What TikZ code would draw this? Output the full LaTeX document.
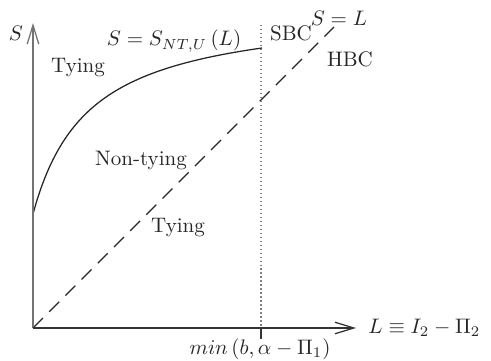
\documentclass[tikz,border=0pt]{standalone}
\usetikzlibrary{arrows.meta}
\begin{document}
\begin{tikzpicture}[x=0.476pt,y=-0.476pt,
  axisline/.style={line width=0.6pt,-{Straight Barb[length=9pt,width=5.5pt]}},
  curveline/.style={line width=0.6pt,black!85},
  diagline/.style={line width=0.55pt,black!85,dash pattern=on 6.7pt off 4.2pt},
  dotline/.style={line width=0.55pt,gray,dash pattern=on 0.6pt off 1.3pt},
  lbl/.style={inner sep=0pt,text=black!85}]
\useasboundingbox (0,0) rectangle (491,360);
\coordinate (O) at (33,328);
\coordinate (ytop) at (33,23);
\coordinate (xend) at (356,328);
\coordinate (dtop) at (334,27);
\coordinate (vtop) at (261,25);
\coordinate (vbot) at (261,328);
\coordinate (tick) at (261,339);
% dashed S = L line
\draw[diagline] (O) -- (dtop);
% dotted vertical
\draw[dotline] (vtop) -- (vbot);
% curve
\draw[curveline] plot[domain=0:229,samples=80,smooth] ({33+\x},{214-206.6*(\x/(\x+56))});
% axes
\draw[axisline,gray!90!black] (O) -- (ytop);
\draw[axisline,black!80] (O) -- (xend);
\draw[line width=0.6pt,black!80] (vbot) -- (tick);
% labels
\node[lbl] (sy) at (16,33) {$S$};
\node[lbl] (curvelbl) at (174,41) {$S=S_{NT,U}\left(L\right)$};
\node[lbl] (ty1) at (78,68) {Tying};
\node[lbl] (sbc) at (291,33) {SBC};
\node[lbl] (sl) at (339,18) {$S=L$};
\node[lbl] (hbc) at (350,59) {HBC};
\node[lbl] (nt) at (141,160) {Non-tying};
\node[lbl] (ty2) at (178,228) {Tying};
\node[lbl,anchor=west] (xl) at (368,328) {$L\equiv I_2-\Pi_2$};
\node[lbl] (mn) at (260,349) {$min\left(b,\alpha-\Pi_1\right)$};
\end{tikzpicture}
\end{document}
